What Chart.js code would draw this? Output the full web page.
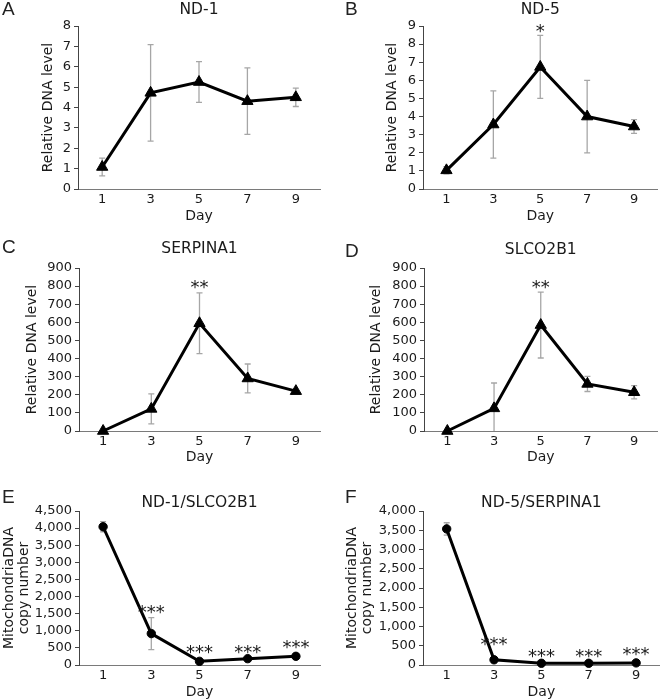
<!DOCTYPE html>
<html>
<head>
<meta charset="utf-8">
<script src="https://cdn.jsdelivr.net/npm/chart.js@4.4.1/dist/chart.umd.min.js"></script>
<style>
  html, body { margin: 0; padding: 0; background: #fff; }
  #page { position: relative; width: 665px; height: 700px; overflow: hidden; background: #fff; }
  canvas { position: absolute; }
</style>
</head>
<body>
<div id="page"></div>
<script>
// ---------- data ----------
const days = ['1', '3', '5', '7', '9'];

// A: ND-1
const nd1Mean = [1.08, 4.72, 5.25, 4.31, 4.5];
const nd1Err  = [0.44, 2.37, 1.0, 1.63, 0.45];
const nd1Stars = ['', '', '', '', ''];
const nd1StarY = [null, null, null, null, null];
const nd1Ticks = [0, 1, 2, 3, 4, 5, 6, 7, 8];

// B: ND-5
const nd5Mean = [1.03, 3.56, 6.74, 4.0, 3.45];
const nd5Err  = [0.2, 1.86, 1.74, 2.0, 0.38];
const nd5Stars = ['', '', '*', '', ''];
const nd5StarY = [null, null, 8.95, null, null];
const nd5Ticks = [0, 1, 2, 3, 4, 5, 6, 7, 8, 9];

// C: SERPINA1
const serpMean = [0, 122, 595, 290, 220];
const serpErr  = [0, 83, 168, 80, 0];
const serpStars = ['', '', '**', '', ''];
const serpStarY = [null, null, 817, null, null];
const serpTicks = [0, 100, 200, 300, 400, 500, 600, 700, 800, 900];

// D: SLCO2B1
const slcoMean = [0, 125, 585, 260, 214];
const slcoErr  = [0, 140, 182, 42, 37];
const slcoStars = ['', '', '**', '', ''];
const slcoStarY = [null, null, 817, null, null];
const slcoTicks = [0, 100, 200, 300, 400, 500, 600, 700, 800, 900];

// E: ND-1/SLCO2B1
const nd1SlcoMean = [4040, 918, 107, 185, 254];
const nd1SlcoErr  = [150, 469, 0, 0, 0];
const nd1SlcoStars = ['', '***', '***', '***', '***'];
const nd1SlcoStarY = [null, 1680, 497, 497, 643];
const nd1SlcoTicks = [0, 500, 1000, 1500, 2000, 2500, 3000, 3500, 4000, 4500];

// F: ND-5/SERPINA1
const nd5SerpMean = [3535, 135, 45, 45, 55];
const nd5SerpErr  = [160, 0, 0, 0, 0];
const nd5SerpStars = ['', '***', '***', '***', '***'];
const nd5SerpStarY = [null, 649, 338, 338, 390];
const nd5SerpTicks = [0, 500, 1000, 1500, 2000, 2500, 3000, 3500, 4000];

const relTitle = 'Relative DNA level';
const copyTitle = ['MitochondriaDNA', 'copy number'];

// ---------- layout (page coordinates) ----------
const panels = [
  { letter: 'A', title: 'ND-1', mean: nd1Mean, err: nd1Err, stars: nd1Stars, starY: nd1StarY, ticks: nd1Ticks, yTitle: relTitle, marker: 'triangle',
    canvas: { l: 0, t: 0, w: 330, h: 235 }, area: { L: 78, R: 320, T: 26, B: 189 },
    yTitleX: 48.5, dayY: 216, titleY: 10, letterPos: [2, 10] },
  { letter: 'B', title: 'ND-5', mean: nd5Mean, err: nd5Err, stars: nd5Stars, starY: nd5StarY, ticks: nd5Ticks, yTitle: relTitle, marker: 'triangle',
    canvas: { l: 330, t: 0, w: 335, h: 235 }, area: { L: 423, R: 665, T: 26, B: 189 },
    yTitleX: 392.5, dayY: 216, titleY: 10, letterPos: [345, 10] },
  { letter: 'C', title: 'SERPINA1', mean: serpMean, err: serpErr, stars: serpStars, starY: serpStarY, ticks: serpTicks, yTitle: relTitle, marker: 'triangle',
    canvas: { l: 0, t: 230, w: 330, h: 240 }, area: { L: 79, R: 320, T: 268, B: 431 },
    yTitleX: 32.5, dayY: 457, titleY: 249, letterPos: [2, 248] },
  { letter: 'D', title: 'SLCO2B1', mean: slcoMean, err: slcoErr, stars: slcoStars, starY: slcoStarY, ticks: slcoTicks, yTitle: relTitle, marker: 'triangle',
    canvas: { l: 330, t: 230, w: 335, h: 240 }, area: { L: 424, R: 665, T: 268, B: 431 },
    yTitleX: 376, dayY: 457, titleY: 250, letterPos: [345, 252] },
  { letter: 'E', title: 'ND-1/SLCO2B1', mean: nd1SlcoMean, err: nd1SlcoErr, stars: nd1SlcoStars, starY: nd1SlcoStarY, ticks: nd1SlcoTicks, yTitle: copyTitle, marker: 'circle',
    canvas: { l: 0, t: 460, w: 330, h: 240 }, area: { L: 79, R: 320, T: 511, B: 665 },
    yTitleX: 9, dayY: 692, titleY: 503, letterPos: [2, 498] },
  { letter: 'F', title: 'ND-5/SERPINA1', mean: nd5SerpMean, err: nd5SerpErr, stars: nd5SerpStars, starY: nd5SerpStarY, ticks: nd5SerpTicks, yTitle: copyTitle, marker: 'circle',
    canvas: { l: 330, t: 460, w: 335, h: 240 }, area: { L: 423, R: 665, T: 511, B: 665 },
    yTitleX: 352.5, dayY: 692, titleY: 503, letterPos: [345, 498] }
];

const TXT = '#1a1a1a';
const FONT = 'DejaVu Sans';

// ---------- plugins ----------
const errorBars = {
  id: 'errorBars',
  beforeDatasetsDraw(chart, args, opts) {
    const { ctx, chartArea } = chart;
    const x = chart.scales.x, y = chart.scales.y;
    const p = opts.panel;
    ctx.save();
    ctx.beginPath();
    ctx.rect(chartArea.left, chartArea.top - 40, chartArea.right - chartArea.left, chartArea.bottom - chartArea.top + 40);
    ctx.clip();
    ctx.strokeStyle = '#a6a6a6';
    ctx.lineWidth = 1.3;
    p.mean.forEach((m, i) => {
      const e = p.err[i];
      if (!e) return;
      const px = x.getPixelForValue(i);
      const top = y.getPixelForValue(m + e);
      const bot = y.getPixelForValue(m - e);
      ctx.beginPath();
      ctx.moveTo(px, top); ctx.lineTo(px, bot);
      ctx.moveTo(px - 3, top); ctx.lineTo(px + 3, top);
      ctx.moveTo(px - 3, bot); ctx.lineTo(px + 3, bot);
      ctx.stroke();
    });
    ctx.restore();
  }
};

const annotate = {
  id: 'annotate',
  afterDraw(chart, args, opts) {
    const { ctx, chartArea } = chart;
    const x = chart.scales.x, y = chart.scales.y;
    const p = opts.panel;
    const c = p.canvas;
    ctx.save();
    // stars
    ctx.fillStyle = TXT;
    ctx.font = '18px "' + FONT + '"';
    ctx.textAlign = 'center';
    ctx.textBaseline = 'alphabetic';
    p.stars.forEach((s, i) => {
      if (!s) return;
      const px = x.getPixelForValue(i);
      const py = y.getPixelForValue(p.starY[i]);
      ctx.fillText(s, px, py + 0.575 * 18);
    });
    // title
    ctx.font = '15.5px "' + FONT + '"';
    ctx.textBaseline = 'middle';
    ctx.fillText(p.title, (chartArea.left + chartArea.right) / 2, p.titleY - c.t);
    // panel letter
    ctx.font = '19px "Liberation Sans"';
    ctx.textAlign = 'left';
    ctx.fillStyle = '#222';
    ctx.fillText(p.letter, p.letterPos[0] - c.l, p.letterPos[1] - c.t);
    ctx.restore();
  }
};

// ---------- build charts ----------
const page = document.getElementById('page');
panels.forEach(p => {
  const c = p.canvas, a = p.area;
  const cv = document.createElement('canvas');
  cv.width = c.w; cv.height = c.h;
  cv.style.left = c.l + 'px'; cv.style.top = c.t + 'px';
  cv.style.width = c.w + 'px'; cv.style.height = c.h + 'px';
  page.appendChild(cv);

  const yTitleSize = 14;
  const multi = Array.isArray(p.yTitle);
  const yLH = multi ? 1.08 : 1.2;
  const yTitlePad = (p.yTitleX - c.l) - (yTitleSize * yLH) / 2;
  const xTitleSize = 14;
  const xTitlePad = (c.t + c.h) - p.dayY - (xTitleSize * 1.2) / 2;
  const yWidth = a.L - c.l;
  const xHeight = c.t + c.h - a.B;

  new Chart(cv, {
    type: 'line',
    data: {
      labels: days,
      datasets: [{
        data: p.mean,
        borderColor: '#000',
        borderWidth: 3,
        backgroundColor: '#000',
        pointStyle: p.marker,
        pointRadius: p.marker === 'triangle' ? 6.5 : 4.2,
        pointBackgroundColor: '#000',
        pointBorderColor: '#000',
        pointBorderWidth: 1,
        tension: 0,
        fill: false,
        clip: false
      }]
    },
    options: {
      responsive: false,
      animation: false,
      devicePixelRatio: 1,
      events: [],
      layout: { padding: { top: a.T - c.t, right: c.l + c.w - a.R, left: 0, bottom: 0 } },
      plugins: {
        legend: { display: false },
        tooltip: { enabled: false },
        title: { display: false },
        errorBars: { panel: p },
        annotate: { panel: p }
      },
      scales: {
        x: {
          type: 'category',
          offset: true,
          grid: { display: false, drawTicks: false },
          border: { display: true, color: '#7a7a7a', width: 1 },
          ticks: { color: TXT, font: { family: FONT, size: 13 }, padding: 3, maxRotation: 0, autoSkip: false },
          title: { display: true, text: 'Day', color: TXT, font: { family: FONT, size: xTitleSize }, padding: { top: 0, bottom: xTitlePad } },
          afterFit(s) { s.height = xHeight; }
        },
        y: {
          type: 'linear',
          min: p.ticks[0],
          max: p.ticks[p.ticks.length - 1],
          afterBuildTicks(s) { s.ticks = p.ticks.map(v => ({ value: v })); },
          grid: { display: true, drawOnChartArea: false, drawTicks: true, tickLength: 4, color: '#444' },
          border: { display: true, color: '#444', width: 1 },
          ticks: {
            color: TXT, font: { family: FONT, size: 13 }, padding: 3, autoSkip: false,
            callback: v => Number(v).toLocaleString('en-US')
          },
          title: { display: true, text: p.yTitle, color: TXT, font: { family: FONT, size: yTitleSize, lineHeight: yLH }, padding: { top: yTitlePad, bottom: 0 } },
          afterFit(s) { s.width = yWidth; }
        }
      }
    },
    plugins: [errorBars, annotate]
  });
});
</script>
</body>
</html>
